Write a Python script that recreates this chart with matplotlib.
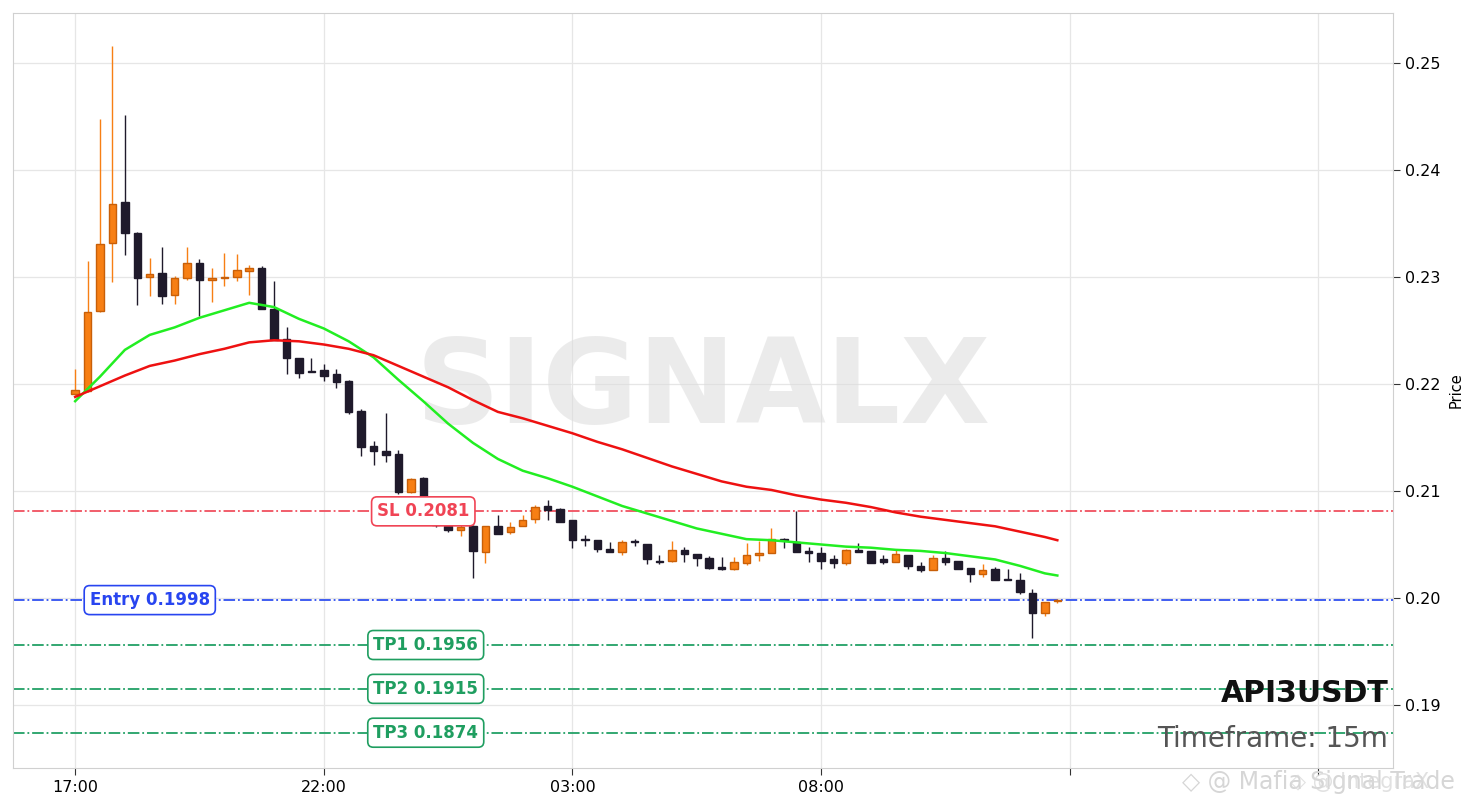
import numpy as np
import pandas as pd
import matplotlib
matplotlib.use("Agg")
import matplotlib.pyplot as plt
from matplotlib.ticker import FuncFormatter, MultipleLocator

# 15m candles, API3USDT
opens = [0.2191, 0.2194, 0.2268, 0.2332, 0.2370, 0.2341, 0.2300, 0.2304, 0.2283, 0.2299,
         0.2313, 0.2297, 0.2299, 0.2300, 0.2306, 0.2309, 0.2270, 0.2242, 0.2224, 0.2212,
         0.2213, 0.2209, 0.2203, 0.2175, 0.2142, 0.2137, 0.2135, 0.2099, 0.2112, 0.2090,
         0.2067, 0.2064, 0.2067, 0.2043, 0.2067, 0.2062, 0.2067, 0.2074, 0.2086, 0.2083,
         0.2073, 0.2055, 0.2054, 0.2046, 0.2043, 0.2053, 0.2050, 0.2035, 0.2035, 0.2045,
         0.2041, 0.2037, 0.2029, 0.2027, 0.2033, 0.2040, 0.2042, 0.2055, 0.2052, 0.2044,
         0.2042, 0.2036, 0.2033, 0.2045, 0.2044, 0.2036, 0.2034, 0.2040, 0.2030, 0.2026,
         0.2037, 0.2035, 0.2028, 0.2022, 0.2027, 0.2018, 0.2017, 0.2005, 0.1986, 0.1997]
highs = [0.2214, 0.2315, 0.2448, 0.2516, 0.2452, 0.2342, 0.2318, 0.2328, 0.2301, 0.2328,
         0.2317, 0.2309, 0.2323, 0.2322, 0.2311, 0.2310, 0.2296, 0.2253, 0.2224, 0.2224,
         0.2219, 0.2214, 0.2204, 0.2177, 0.2147, 0.2173, 0.2138, 0.2112, 0.2113, 0.2092,
         0.2069, 0.2069, 0.2068, 0.2067, 0.2078, 0.2071, 0.2078, 0.2087, 0.2092, 0.2084,
         0.2073, 0.2059, 0.2054, 0.2052, 0.2054, 0.2055, 0.2050, 0.2040, 0.2053, 0.2048,
         0.2041, 0.2039, 0.2038, 0.2038, 0.2051, 0.2053, 0.2065, 0.2056, 0.2081, 0.2048,
         0.2048, 0.2040, 0.2046, 0.2051, 0.2044, 0.2040, 0.2045, 0.2040, 0.2034, 0.2040,
         0.2044, 0.2035, 0.2028, 0.2032, 0.2029, 0.2027, 0.2023, 0.2008, 0.1986, 0.1999]
lows = [0.2190, 0.2193, 0.2267, 0.2295, 0.2321, 0.2274, 0.2282, 0.2275, 0.2275, 0.2297,
        0.2264, 0.2277, 0.2292, 0.2296, 0.2283, 0.2270, 0.2241, 0.2209, 0.2206, 0.2211,
        0.2203, 0.2196, 0.2172, 0.2133, 0.2124, 0.2127, 0.2097, 0.2098, 0.2088, 0.2066,
        0.2062, 0.2058, 0.2019, 0.2033, 0.2060, 0.2060, 0.2067, 0.2070, 0.2073, 0.2071,
        0.2047, 0.2049, 0.2043, 0.2043, 0.2040, 0.2049, 0.2032, 0.2032, 0.2034, 0.2034,
        0.2030, 0.2027, 0.2026, 0.2026, 0.2031, 0.2035, 0.2042, 0.2047, 0.2043, 0.2034,
        0.2027, 0.2028, 0.2031, 0.2043, 0.2033, 0.2032, 0.2034, 0.2027, 0.2024, 0.2026,
        0.2031, 0.2027, 0.2015, 0.2020, 0.2017, 0.2017, 0.2004, 0.1963, 0.1983, 0.1995]
closes = [0.2194, 0.2267, 0.2331, 0.2368, 0.2341, 0.2299, 0.2303, 0.2282, 0.2299, 0.2313,
          0.2297, 0.2299, 0.2300, 0.2307, 0.2309, 0.2270, 0.2241, 0.2224, 0.2210, 0.2211,
          0.2208, 0.2202, 0.2174, 0.2141, 0.2137, 0.2134, 0.2099, 0.2111, 0.2090, 0.2068,
          0.2064, 0.2066, 0.2044, 0.2067, 0.2060, 0.2066, 0.2073, 0.2085, 0.2082, 0.2071,
          0.2054, 0.2054, 0.2046, 0.2043, 0.2052, 0.2052, 0.2036, 0.2034, 0.2045, 0.2041,
          0.2037, 0.2028, 0.2027, 0.2034, 0.2040, 0.2042, 0.2055, 0.2054, 0.2043, 0.2042,
          0.2035, 0.2033, 0.2045, 0.2043, 0.2033, 0.2034, 0.2041, 0.2030, 0.2026, 0.2037,
          0.2034, 0.2027, 0.2022, 0.2026, 0.2017, 0.2017, 0.2006, 0.1986, 0.1996, 0.1998]

# moving averages (every 2nd candle)
ema_idx = list(range(0, 80, 2)) + [79]
ema_fast = [0.2184, 0.2207, 0.2232, 0.2246, 0.2253, 0.2262, 0.2269, 0.2276, 0.2272, 0.2261,
            0.2252, 0.2240, 0.2225, 0.2204, 0.2184, 0.2163, 0.2145, 0.2130, 0.2119, 0.2112,
            0.2104, 0.2095, 0.2086, 0.2079, 0.2072, 0.2065, 0.2060, 0.2055, 0.2054, 0.2052,
            0.2050, 0.2048, 0.2047, 0.2045, 0.2044, 0.2042, 0.2039, 0.2036, 0.2030, 0.2023,
            0.2021]
ema_slow = [0.2188, 0.2198, 0.2208, 0.2217, 0.2222, 0.2228, 0.2233, 0.2239, 0.2241, 0.2240,
            0.2237, 0.2233, 0.2227, 0.2217, 0.2207, 0.2197, 0.2185, 0.2174, 0.2168, 0.2161,
            0.2154, 0.2146, 0.2139, 0.2131, 0.2123, 0.2116, 0.2109, 0.2104, 0.2101, 0.2096,
            0.2092, 0.2089, 0.2085, 0.2080, 0.2076, 0.2073, 0.2070, 0.2067, 0.2062, 0.2057,
            0.2054]

symbol = "API3USDT"
timeframe = "15m"
entry = 0.1998
sl = 0.2081
tps = [0.1956, 0.1915, 0.1874]

times = pd.date_range("2024-01-01 17:00", periods=len(opens), freq="15min")

up_col = "#f77f14"
up_edge = "#c85f08"
dn_col = "#1f1a2b"

fig = plt.figure(figsize=(14.79, 8.08), dpi=100)
ax = fig.add_axes([13 / 1479, 1 - 768 / 808, 1380 / 1479, 755 / 808])

x = np.arange(len(opens))
o = np.array(opens)
c = np.array(closes)
up = c >= o
cols = np.where(up, up_col, dn_col)
edges = np.where(up, up_edge, dn_col)

# wicks then bodies
ax.vlines(x, lows, highs, colors=cols, linewidth=1.0, zorder=3)
body = np.abs(c - o)
body = np.maximum(body, 0.00008)
ax.bar(x, body, bottom=np.minimum(o, c), width=0.6, color=cols, edgecolor=edges,
       linewidth=1.0, zorder=4)

ax.plot(ema_idx, ema_fast, color="#22ee22", linewidth=1.8, zorder=5)
ax.plot(ema_idx, ema_slow, color="#ee1111", linewidth=1.8, zorder=5)

# signal levels
ax.axhline(sl, color="#f0505f", linestyle="-.", linewidth=1.3, zorder=2)
ax.axhline(entry, color="#3050f0", linestyle="-.", linewidth=1.3, zorder=2)
for tp in tps:
    ax.axhline(tp, color="#22a066", linestyle="-.", linewidth=1.3, zorder=2)

box = dict(boxstyle="round,pad=0.33", facecolor="white", linewidth=1.2)
ax.text(28, sl, f"SL {sl:.4f}", color="#f04455", fontsize=12, fontweight="bold",
        ha="center", va="center", zorder=6, bbox=dict(box, edgecolor="#f04455"))
ax.text(6, entry, f"Entry {entry:.4f}", color="#2845f0", fontsize=12, fontweight="bold",
        ha="center", va="center", zorder=6, bbox=dict(box, edgecolor="#2845f0"))
for k, tp in enumerate(tps):
    ax.text(28.2, tp, f"TP{k + 1} {tp:.4f}", color="#1f9e60", fontsize=12, fontweight="bold",
            ha="center", va="center", zorder=6, bbox=dict(box, edgecolor="#1f9e60"))

# watermark
ax.text(0.5, 0.5, "SIGNALX", transform=ax.transAxes, fontsize=84, fontweight="bold",
        color="#dcdcdc", alpha=0.55, ha="center", va="center", zorder=1)

ax.text(0.9965, 0.099, symbol, transform=ax.transAxes, fontsize=21.5, fontweight="bold",
        color="#111111", ha="right", va="center", zorder=7)
ax.text(0.9965, 0.038, f"Timeframe: {timeframe}", transform=ax.transAxes, fontsize=20,
        color="#555555", ha="right", va="center", zorder=7)

ax.set_xlim(-5, 106)
ax.set_ylim(0.1841, 0.2547)

def fmt_time(v, pos):
    i = int(round(v))
    if 0 <= i < len(times):
        return times[i].strftime("%H:%M")
    return ""

ax.xaxis.set_major_locator(MultipleLocator(20))
ax.xaxis.set_major_formatter(FuncFormatter(fmt_time))
ax.yaxis.set_major_locator(MultipleLocator(0.01))
ax.yaxis.set_major_formatter(FuncFormatter(lambda v, p: f"{v:.2f}"))
ax.yaxis.tick_right()
ax.yaxis.set_label_position("right")
ax.set_ylabel("Price", fontsize=10.5, labelpad=6)
ax.tick_params(axis="both", labelsize=11.5, length=5, color="#333333", direction="out")
ax.grid(True, color="#e6e6e6", linewidth=0.9, zorder=0)
ax.set_axisbelow(True)
for s in ax.spines.values():
    s.set_color("#d0d0d0")

# image host watermark at bottom right (two overlapping stamps, as in the source)
fig.text(0.799, 0.032, "\u25c7 @ Mafia Signal Trade", fontsize=17, color="#d6d6d6",
         ha="left", va="center")
fig.text(0.872, 0.032, "\u25c7 @ IntegraX", fontsize=15, color="#dadada", alpha=0.8,
         ha="left", va="center")

fig.savefig("out.png", dpi=100)
